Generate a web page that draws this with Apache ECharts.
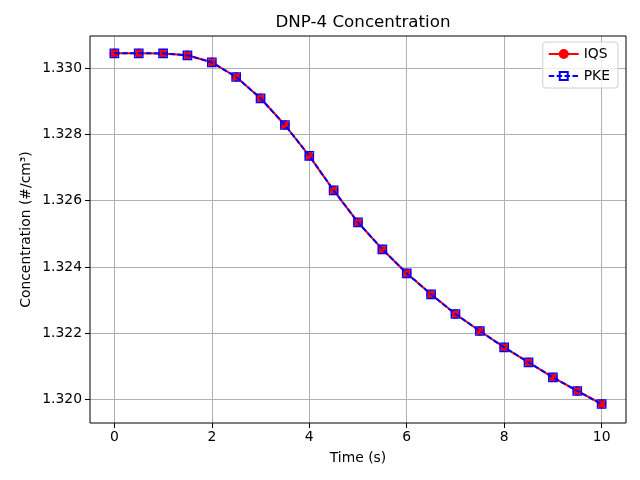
<!DOCTYPE html>
<html>
<head>
<meta charset="utf-8">
<script src="https://cdn.jsdelivr.net/npm/echarts@6/dist/echarts.min.js"></script>
<style>html,body{margin:0;padding:0;background:#fff}#c{width:640px;height:480px}</style>
</head>
<body>
<div id="c"></div>
<script>
const times = [0,0.5,1,1.5,2,2.5,3,3.5,4,4.5,5,5.5,6,6.5,7,7.5,8,8.5,9,9.5,10];
const iqs = [1.330453,1.330453,1.330450,1.330393,1.330181,1.329737,1.329094,1.328287,1.327356,1.326314,1.325347,1.324532,1.323807,1.323172,1.322577,1.322063,1.321571,1.321118,1.320665,1.320251,1.319858];
const pke = [1.330453,1.330453,1.330450,1.330393,1.330181,1.329737,1.329094,1.328287,1.327356,1.326314,1.325347,1.324532,1.323807,1.323172,1.322577,1.322063,1.321571,1.321118,1.320665,1.320251,1.319858];
const xTicks = [0,2,4,6,8,10];
const yTicks = [1.320,1.322,1.324,1.326,1.328,1.330];

const FONT = 'DejaVu Sans';
const chart = echarts.init(document.getElementById('c'), null, {renderer:'canvas'});
const gridColor = '#b0b0b0';

chart.setOption({
  animation:false,
  backgroundColor:'#fff',
  title:{text:'DNP-4 Concentration', left:358, textAlign:'center', top:9,
    textStyle:{fontFamily:FONT, fontSize:16.7, fontWeight:'normal', color:'#000'}},
  legend:{
    orient:'vertical', right:22, top:42,
    data:['IQS','PKE'],
    itemWidth:30, itemHeight:10, itemGap:8,
    padding:[5,8,5,5],
    borderColor:'#d0d0d0', borderWidth:1, borderRadius:3,
    backgroundColor:'rgba(255,255,255,0.8)',
    textStyle:{fontFamily:FONT, fontSize:13.9, color:'#000'}
  },
  grid:[
    {left:90, right:14, top:36, bottom:57, show:true, borderColor:'#000', borderWidth:1, backgroundColor:'transparent', z:3},
    {left:114.36, right:38.36, top:36, bottom:57},
    {left:90, right:14, top:68.3, bottom:80.7}
  ],
  xAxis:[
    {gridIndex:0, type:'value', min:-0.5, max:10.5, axisLine:{show:false}, axisTick:{show:false}, axisLabel:{show:false}, splitLine:{show:false},
     name:'Time (s)', nameLocation:'middle', nameGap:28, nameTextStyle:{fontFamily:FONT, fontSize:13.9, color:'#000'}},
    {gridIndex:1, type:'value', min:xTicks[0], max:xTicks[xTicks.length-1], interval:2, position:'bottom',
     axisLine:{show:false}, axisTick:{show:true, length:5, inside:false, lineStyle:{color:'#000', width:1}},
     axisLabel:{show:true, margin:7, color:'#000', fontFamily:FONT, fontSize:13.9},
     splitLine:{show:true, lineStyle:{color:gridColor, width:1}}},
    {gridIndex:2, type:'value', show:false, min:0, max:1}
  ],
  yAxis:[
    {gridIndex:0, type:'value', min:1.319284, max:1.330976, axisLine:{show:false}, axisTick:{show:false}, axisLabel:{show:false}, splitLine:{show:false},
     name:'Concentration (#/cm³)', nameLocation:'middle', nameGap:57, nameTextStyle:{fontFamily:FONT, fontSize:13.9, color:'#000'}},
    {gridIndex:1, type:'value', show:false, min:0, max:1},
    {gridIndex:2, type:'value', min:yTicks[0], max:yTicks[yTicks.length-1], interval:0.002, position:'left',
     axisLine:{show:false}, axisTick:{show:true, length:5, inside:false, lineStyle:{color:'#000', width:1}},
     axisLabel:{show:true, margin:8, color:'#000', fontFamily:FONT, fontSize:13.9, formatter:v=>v.toFixed(3)},
     splitLine:{show:true, lineStyle:{color:gridColor, width:1}}}
  ],
  series:[
    {name:'IQS', type:'line', xAxisIndex:0, yAxisIndex:0, z:5,
     data:times.map((t,i)=>[t,iqs[i]]),
     symbol:'circle', symbolSize:8.3, showSymbol:true,
     lineStyle:{color:'#ff0000', width:2},
     itemStyle:{color:'#ff0000', borderColor:'#ff0000', borderWidth:1}},
    {name:'PKE', type:'line', xAxisIndex:0, yAxisIndex:0, z:6,
     data:times.map((t,i)=>[t,pke[i]]),
     symbol:'rect', symbolSize:8.3, showSymbol:true,
     lineStyle:{color:'#0000ff', width:2, type:[5.5,2.4]},
     itemStyle:{color:'rgba(0,0,0,0)', borderColor:'#0000ff', borderWidth:1.4}}
  ]
});
</script>
</body>
</html>
